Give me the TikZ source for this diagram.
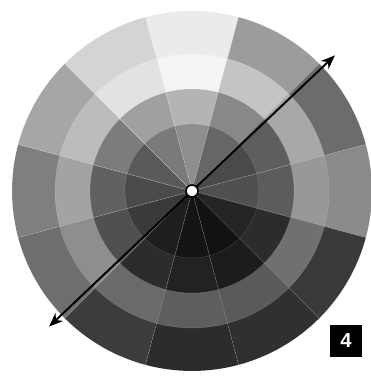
\documentclass[tikz,border=0pt]{standalone}
\usepackage{fontspec}
\setsansfont{Liberation Sans}
\usetikzlibrary{arrows.meta}

\begin{document}
\begin{tikzpicture}[x=0.02cm, y=0.02cm,
  seg/.style={fill={rgb,255:red,#1;green,#1;blue,#1}, draw=white, draw opacity=0.15, line width=0.3pt},
  hub/.style={circle, draw=black, fill=white, line width=0.9pt, minimum size=0.24cm, inner sep=0pt},
  wheelaxis/.style={{Stealth[length=0.28cm, width=0.22cm]}-{Stealth[length=0.28cm, width=0.22cm]}, line width=1.1pt},
  tag/.style={fill=black, text=white, font=\sffamily\bfseries\fontsize{11.5}{12}\selectfont, minimum size=0.64cm, inner sep=0pt},
]
\useasboundingbox (-192,-187) rectangle (178,191);
% rings from the rim inwards: outer, second, third, core
\foreach \a/\ga/\gb/\gc/\gd in {%
  90/235/244/180/142,
  60/156/196/136/102,
  30/108/168/94/74,
  0/138/152/92/80,
  -30/58/112/44/36,
  -60/48/90/28/18,
  -90/44/94/34/20,
  -120/60/106/44/30,
  -150/110/142/80/58,
  180/127/163/97/74,
  150/166/188/124/90,
  120/212/226/160/122%
} {
  \pgfmathsetmacro{\ta}{\a - 15}
  \pgfmathsetmacro{\tb}{\a + 15}
  \filldraw[seg=\ga] (0,0) -- (\ta:180) arc[start angle=\ta, end angle=\tb, radius=180] -- cycle;
  \filldraw[seg=\gb] (0,0) -- (\ta:137) arc[start angle=\ta, end angle=\tb, radius=137] -- cycle;
  \filldraw[seg=\gc] (0,0) -- (\ta:102) arc[start angle=\ta, end angle=\tb, radius=102] -- cycle;
  \filldraw[seg=\gd] (0,0) -- (\ta:67) arc[start angle=\ta, end angle=\tb, radius=67] -- cycle;
}
\coordinate (ne) at (43.5:197);
\coordinate (sw) at (223.5:197);
\draw[wheelaxis] (sw) -- (ne);
\node[hub] (hub) at (0,0) {};
\node[tag] (tag) at (154,-150) {4};
\end{tikzpicture}
\end{document}
